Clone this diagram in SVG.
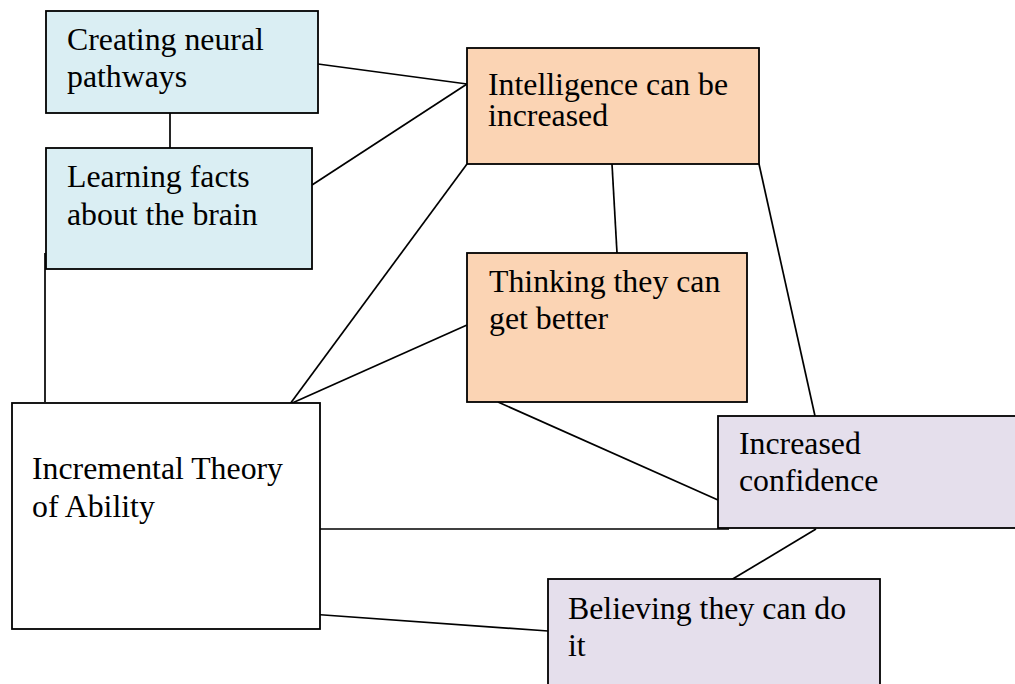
<svg xmlns="http://www.w3.org/2000/svg" width="1015" height="684" viewBox="0 0 1015 684">
<style>
.box{stroke:#000;stroke-width:1.8}
.blue{fill:#DAEEF3}
.orange{fill:#FBD4B4}
.lav{fill:#E5DFEC}
.white{fill:#fff}
.t{font-family:"Liberation Serif","Times New Roman",serif;font-size:31.8px;fill:#000}
.c line{stroke:#000;stroke-width:1.7}
</style>
<rect width="1015" height="684" fill="#fff"/>
<g id="connectors" class="c">
<line x1="318" y1="64" x2="467" y2="84"/>
<line x1="312" y1="185" x2="467" y2="84"/>
<line x1="170" y1="113" x2="170" y2="148"/>
<line x1="45" y1="253" x2="45" y2="402"/>
<line x1="290" y1="404" x2="467" y2="164"/>
<line x1="290" y1="404" x2="467" y2="325"/>
<line x1="612" y1="164" x2="617" y2="253"/>
<line x1="759" y1="164" x2="815" y2="416"/>
<line x1="498" y1="402" x2="718" y2="500"/>
<line x1="320" y1="529" x2="729" y2="529"/>
<line x1="816" y1="529" x2="731" y2="580"/>
<line x1="310" y1="614" x2="548" y2="631"/>
</g>
<g id="creating">
<rect class="box blue" x="46" y="11" width="272" height="102"/>
<text class="t" x="67" y="50">Creating neural</text>
<text class="t" x="67" y="87">pathways</text>
</g>
<g id="learning">
<rect class="box blue" x="46" y="148" width="266" height="121"/>
<text class="t" x="67" y="187">Learning facts</text>
<text class="t" x="67" y="225">about the brain</text>
</g>
<g id="intelligence">
<rect class="box orange" x="467" y="48" width="292" height="116"/>
<text class="t" x="488" y="95">Intelligence can be</text>
<text class="t" x="488" y="126">increased</text>
</g>
<g id="thinking">
<rect class="box orange" x="467" y="253" width="280" height="149"/>
<text class="t" x="489" y="292">Thinking they can</text>
<text class="t" x="489" y="329">get better</text>
</g>
<g id="incremental">
<rect class="box white" x="12" y="403" width="308" height="226"/>
<text class="t" x="32" y="479">Incremental Theory</text>
<text class="t" x="32" y="517">of Ability</text>
</g>
<g id="confidence">
<rect class="box lav" x="718" y="416" width="300" height="112"/>
<text class="t" x="739" y="454">Increased</text>
<text class="t" x="739" y="491">confidence</text>
</g>
<g id="believing">
<rect class="box lav" x="548" y="579" width="332" height="120"/>
<text class="t" x="568" y="619">Believing they can do</text>
<text class="t" x="568" y="656">it</text>
</g>
</svg>
